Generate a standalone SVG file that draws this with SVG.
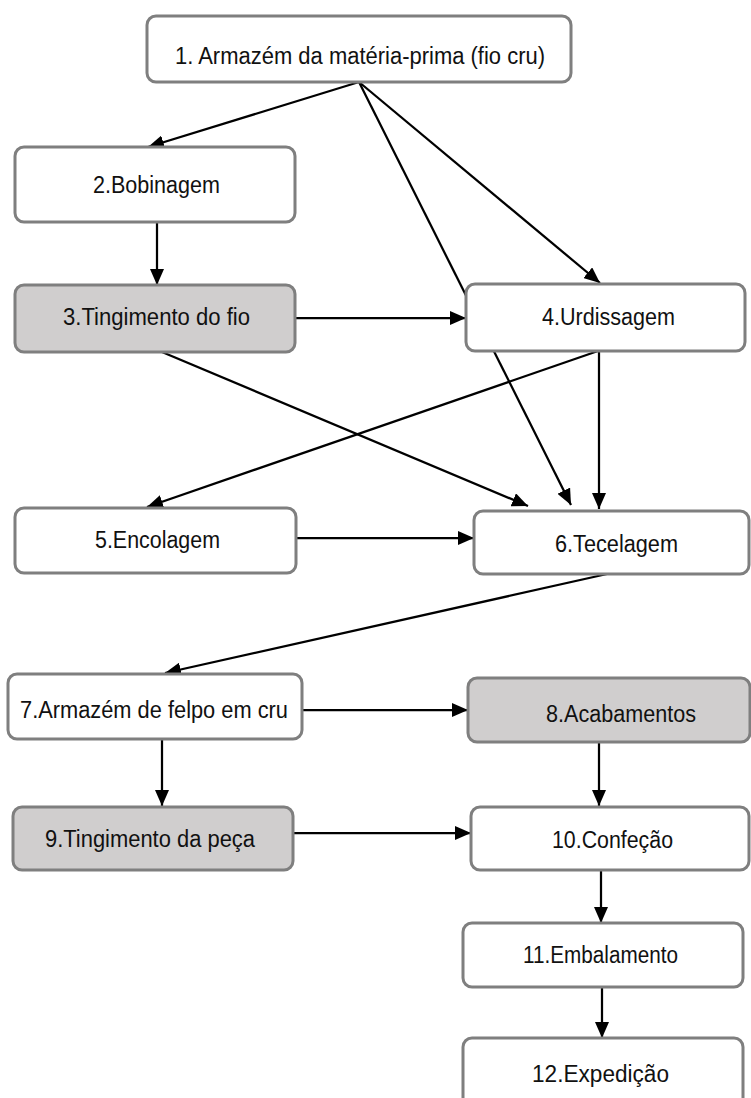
<svg xmlns="http://www.w3.org/2000/svg" width="751" height="1098" viewBox="0 0 751 1098">
  <style>
    .box { fill: #ffffff; stroke: #7f7f7f; stroke-width: 3; }
    .shaded { fill: #d0cece; }
    .label { font-family: "Liberation Sans", Arial, sans-serif; font-size: 23px; fill: #111111; text-anchor: middle; }
    .edge { fill: none; stroke: #000000; stroke-width: 2.25; marker-end: url(#arrow); }
  </style>
  <defs>
    <marker id="arrow" markerUnits="userSpaceOnUse" markerWidth="16" markerHeight="14" refX="16" refY="7" orient="auto">
      <path d="M0,0 L16,7 L0,14 Z" fill="#000000"/>
    </marker>
  </defs>
  <rect width="751" height="1098" fill="#ffffff"/>

  <!-- connectors are drawn first so the boxes sit on top of them -->
  <g id="connectors">
    <line class="edge" x1="359" y1="82" x2="148" y2="147"/>
    <line class="edge" x1="359" y1="82" x2="600" y2="283"/>
    <line class="edge" x1="359" y1="82" x2="571" y2="505"/>
    <line class="edge" x1="157" y1="222" x2="157" y2="285"/>
    <line class="edge" x1="295" y1="318" x2="466" y2="318"/>
    <line class="edge" x1="162" y1="352" x2="528" y2="506"/>
    <line class="edge" x1="598" y1="351" x2="147" y2="507"/>
    <line class="edge" x1="599" y1="351" x2="599" y2="509"/>
    <line class="edge" x1="296" y1="538" x2="474" y2="538"/>
    <line class="edge" x1="607" y1="574" x2="165" y2="673"/>
    <line class="edge" x1="302" y1="710" x2="468" y2="710"/>
    <line class="edge" x1="162" y1="739" x2="162" y2="806"/>
    <line class="edge" x1="599" y1="742" x2="599" y2="806"/>
    <line class="edge" x1="293" y1="833" x2="471" y2="833"/>
    <line class="edge" x1="601" y1="870" x2="601" y2="923"/>
    <line class="edge" x1="602" y1="987" x2="602" y2="1038"/>
  </g>

  <g id="n1">
    <rect class="box" x="147" y="16" width="424" height="66" rx="9"/>
    <text class="label" x="360" y="64" textLength="370" lengthAdjust="spacingAndGlyphs">1. Armazém da matéria-prima (fio cru)</text>
  </g>
  <g id="n2">
    <rect class="box" x="15" y="147" width="280" height="75" rx="9"/>
    <text class="label" x="156.5" y="193" textLength="127" lengthAdjust="spacingAndGlyphs">2.Bobinagem</text>
  </g>
  <g id="n3">
    <rect class="box shaded" x="15" y="285" width="280" height="67" rx="9"/>
    <text class="label" x="156.5" y="325" textLength="187" lengthAdjust="spacingAndGlyphs">3.Tingimento do fio</text>
  </g>
  <g id="n4">
    <rect class="box" x="466" y="284" width="279" height="67" rx="9"/>
    <text class="label" x="608.5" y="325" textLength="133" lengthAdjust="spacingAndGlyphs">4.Urdissagem</text>
  </g>
  <g id="n5">
    <rect class="box" x="15" y="508" width="281" height="65" rx="9"/>
    <text class="label" x="157.5" y="548" textLength="125" lengthAdjust="spacingAndGlyphs">5.Encolagem</text>
  </g>
  <g id="n6">
    <rect class="box" x="474" y="511" width="275" height="63" rx="9"/>
    <text class="label" x="616.5" y="552" textLength="123" lengthAdjust="spacingAndGlyphs">6.Tecelagem</text>
  </g>
  <g id="n7">
    <rect class="box" x="8" y="674" width="294" height="65" rx="9"/>
    <text class="label" x="154" y="718" textLength="268" lengthAdjust="spacingAndGlyphs">7.Armazém de felpo em cru</text>
  </g>
  <g id="n8">
    <rect class="box shaded" x="468" y="678" width="282" height="64" rx="9"/>
    <text class="label" x="621" y="722" textLength="150" lengthAdjust="spacingAndGlyphs">8.Acabamentos</text>
  </g>
  <g id="n9">
    <rect class="box shaded" x="13" y="807" width="280" height="63" rx="9"/>
    <text class="label" x="150" y="847" textLength="210" lengthAdjust="spacingAndGlyphs">9.Tingimento da peça</text>
  </g>
  <g id="n10">
    <rect class="box" x="471" y="807" width="278" height="63" rx="9"/>
    <text class="label" x="612.5" y="848" textLength="121" lengthAdjust="spacingAndGlyphs">10.Confeção</text>
  </g>
  <g id="n11">
    <rect class="box" x="463" y="923" width="280" height="64" rx="9"/>
    <text class="label" x="600.5" y="963" textLength="155" lengthAdjust="spacingAndGlyphs">11.Embalamento</text>
  </g>
  <g id="n12">
    <rect class="box" x="463" y="1038" width="280" height="72" rx="9"/>
    <text class="label" x="600.5" y="1082" textLength="137" lengthAdjust="spacingAndGlyphs">12.Expedição</text>
  </g>
</svg>
